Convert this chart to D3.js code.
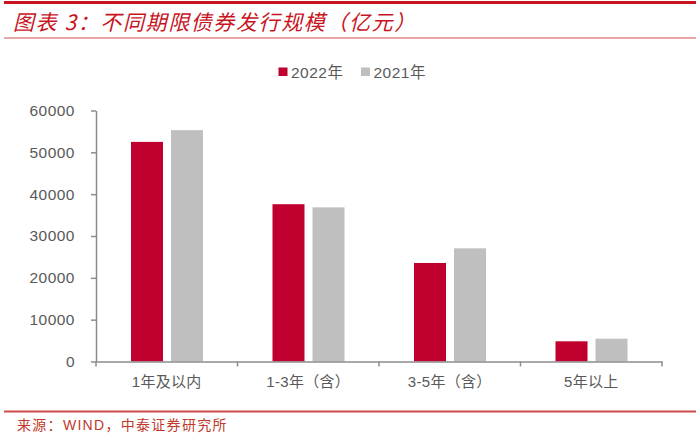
<!DOCTYPE html>
<html><head><meta charset="utf-8">
<script src="https://cdn.jsdelivr.net/npm/d3@7/dist/d3.min.js"></script>
<style>
body{margin:0;background:#fff;}
svg{display:block;}
text{font-family:"Liberation Sans","Noto Sans CJK SC",sans-serif;}
</style></head>
<body>
<script>
const categories = ["1年及以内", "1-3年（含）", "3-5年（含）", "5年以上"];
const series2022 = [52500, 37600, 23550, 4830];
const series2021 = [55300, 36850, 27050, 5450];
const seriesNames = ["2022年", "2021年"];
const yTicks = [0, 10000, 20000, 30000, 40000, 50000, 60000];

const W = 700, H = 442;
const svg = d3.select("body").append("svg").attr("width", W).attr("height", H);

// header/footer lines
svg.append("rect").attr("x", 4).attr("y", 1).attr("width", 692).attr("height", 3).attr("fill", "#c8141e");
svg.append("rect").attr("x", 4).attr("y", 37.5).attr("width", 692).attr("height", 1).attr("fill", "#d05050");
svg.append("rect").attr("x", 4).attr("y", 410.5).attr("width", 692).attr("height", 2).attr("fill", "#d04a4a");

svg.append("text").attr("x", 13).attr("y", 30)
  .attr("font-size", 21).attr("font-style", "italic").attr("fill", "#c8141e")
  .attr("letter-spacing", 1.6)
  .style("font-family", "'Noto Sans CJK SC','Liberation Sans',sans-serif")
  .text("图表 3：不同期限债券发行规模（亿元）");

svg.append("text").attr("x", 17).attr("y", 430)
  .attr("font-size", 14).attr("fill", "#c0392b").attr("letter-spacing", 1.3)
  .text("来源：WIND，中泰证券研究所");

const x = d3.scaleBand().domain(categories).range([96, 662]).padding(0);
const y = d3.scaleLinear().domain([0, 60000]).range([361.5, 110.5]);

const axisColor = "#8c8c8c";
const labelColor = "#595959";

// y axis
const gy = svg.append("g").attr("transform", "translate(96,0)")
  .call(d3.axisLeft(y).tickValues(yTicks).tickSize(5).tickPadding(16).tickSizeOuter(0).tickFormat(d3.format("d")));
gy.selectAll("path, line").attr("stroke", axisColor).attr("stroke-width", 1.5);
gy.selectAll("text").attr("font-size", 15.5).attr("fill", labelColor).attr("letter-spacing", 0.5)
  .style("font-family", "'Liberation Sans',sans-serif");

// bars
const bw = 32;
const g = svg.append("g");
g.selectAll("rect.a").data(categories).join("rect").attr("class", "a")
  .attr("x", d => x(d) + 35).attr("width", bw)
  .attr("y", (d, i) => y(series2022[i])).attr("height", (d, i) => y(0) - y(series2022[i]))
  .attr("fill", "#c0002f");
g.selectAll("rect.b").data(categories).join("rect").attr("class", "b")
  .attr("x", d => x(d) + 75).attr("width", bw)
  .attr("y", (d, i) => y(series2021[i])).attr("height", (d, i) => y(0) - y(series2021[i]))
  .attr("fill", "#bfbfbf");

// x axis
const gx = svg.append("g").attr("transform", "translate(0,361.5)")
  .call(d3.axisBottom(x).tickSize(0).tickPadding(15).tickSizeOuter(0));
gx.select("path").attr("stroke", axisColor).attr("stroke-width", 1.5);
gx.selectAll("text").attr("font-size", 15).attr("fill", labelColor).attr("letter-spacing", 0.3);
const bounds = categories.map(c => x(c)).concat([x.range()[1]]);
gx.selectAll("line.bd").data(bounds).join("line").attr("class", "bd")
  .attr("x1", d => d).attr("x2", d => d).attr("y1", 0).attr("y2", 5)
  .attr("stroke", axisColor).attr("stroke-width", 1.5);

// legend
const leg = [{name: seriesNames[0], color: "#c0002f", sx: 278.5, tx: 291},
             {name: seriesNames[1], color: "#bfbfbf", sx: 361, tx: 373.5}];
const lg = svg.append("g");
lg.selectAll("rect").data(leg).join("rect")
  .attr("x", d => d.sx).attr("y", 67.5).attr("width", 9).attr("height", 8.5).attr("fill", d => d.color);
lg.selectAll("text").data(leg).join("text")
  .attr("x", d => d.tx).attr("y", 77.5).attr("font-size", 15.5).attr("fill", labelColor)
  .attr("letter-spacing", 0.5).text(d => d.name);
</script>
</body></html>
